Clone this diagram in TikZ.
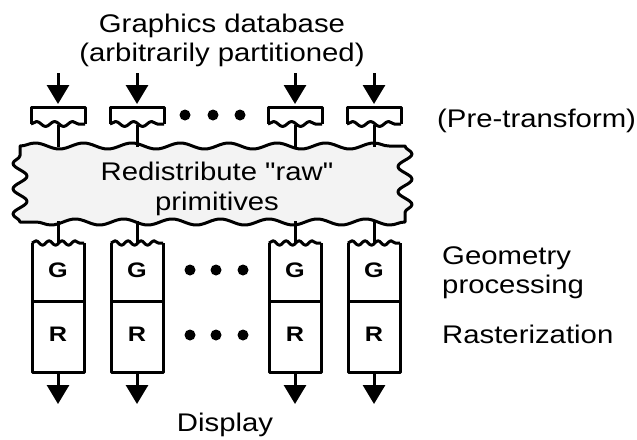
\documentclass[tikz,border=0pt]{standalone}
\usepackage{fontspec}
\setmainfont{Liberation Sans}[Ligatures=TeXOff]
\usetikzlibrary{arrows.meta,decorations.pathmorphing}
\newcommand{\wx}[1]{\scalebox{1.15}[1]{#1}}
\definecolor{cloudgray}{RGB}{243,243,243}
\tikzset{
  lbl/.style={inner sep=0pt, anchor=base, font=\fontsize{25.5}{30}\selectfont},
  lblL/.style={lbl, anchor=base west},
  boxlbl/.style={inner sep=0pt, font=\fontsize{21}{24}\bfseries\selectfont},
  thick line/.style={line width=3pt, line join=round},
  arr/.style={thick line, -{Triangle[length=19pt,width=22pt]}},
  dotmark/.style={circle, fill=black, inner sep=0pt, minimum size=11pt},
  wavyb/.style={decoration={snake, amplitude=2.5pt, segment length=18pt}},
  wavyg/.style={decoration={snake, amplitude=2.2pt, segment length=13pt}},
  cloudh/.style={decoration={snake, amplitude=3pt, segment length=48.4pt}},
  cloudv/.style={decoration={snake, amplitude=7pt, segment length=25.3pt}},
}
\begin{document}
\begin{tikzpicture}[x=1pt,y=-1pt]
\useasboundingbox (0,0) rectangle (637,439);
% titles
\node[lbl] (title1) at (222,32) {\wx{Graphics database}};
\node[lbl] (title2) at (222,61) {\wx{(arbitrarily partitioned)}};
\node[lblL] (pre) at (437,127) {\wx{(Pre-transform)}};
\node[lblL] (geo1) at (442,264) {\wx{Geometry}};
\node[lblL] (geo2) at (442,293) {\wx{processing}};
\node[lblL] (rast) at (442,343) {\wx{Rasterization}};
\node[lbl] (disp) at (225,431) {\wx{Display}};
% cloud
\path[draw, fill=cloudgray, thick line]
  (20,146) decorate[cloudh]{-- (405,146)}
  decorate[cloudv]{-- (405,222)}
  decorate[cloudh]{-- (20,222)}
  decorate[cloudv]{-- (20,146)} -- cycle;
\node[lbl] (red1) at (217,180) {\wx{Redistribute "raw"}};
\node[lbl] (red2) at (217,210) {\wx{primitives}};
% columns
\foreach \c [count=\i] in {58,137,295,374}{
  \coordinate (in\i) at (\c,73);
  \coordinate (pt\i) at (\c,104);
  \coordinate (pb\i) at (\c,125);
  \coordinate (ct\i) at (\c,147);
  \coordinate (cb\i) at (\c,221);
  \coordinate (gt\i) at (\c,244);
  \coordinate (rb\i) at (\c,372);
  \coordinate (out\i) at (\c,404);
  \draw[arr] (in\i) -- (pt\i);
  % pre-transform box
  \draw[thick line] (\c-27,124) -- (\c-27,107) -- (\c+27,107) -- (\c+27,124);
  \draw[thick line, wavyb, decorate] (\c-27,124) -- (\c+27,124);
  \draw[thick line] (pb\i) -- (ct\i);
  \draw[thick line] (cb\i) -- (gt\i);
  % G/R box
  \draw[thick line] (\c-26,243) -- (\c-26,372) -- (\c+26,372) -- (\c+26,243);
  \draw[thick line, wavyg, decorate] (\c-26,243) -- (\c+26,243);
  \draw[thick line] (\c-26,301) -- (\c+26,301);
  \node[boxlbl] (G\i) at (\c,270) {\scalebox{1.2}[1]{G}};
  \node[boxlbl] (R\i) at (\c,334) {\scalebox{1.2}[1]{R}};
  \draw[arr] (rb\i) -- (out\i);
}
% ellipsis dots
\foreach \x [count=\j] in {185,213,240}{
  \node[dotmark] (dt\j) at (\x,115) {};
}
\foreach \x [count=\j] in {190,216,243}{
  \node[dotmark] (dg\j) at (\x,270) {};
  \node[dotmark] (dr\j) at (\x,335) {};
}
\end{tikzpicture}
\end{document}
